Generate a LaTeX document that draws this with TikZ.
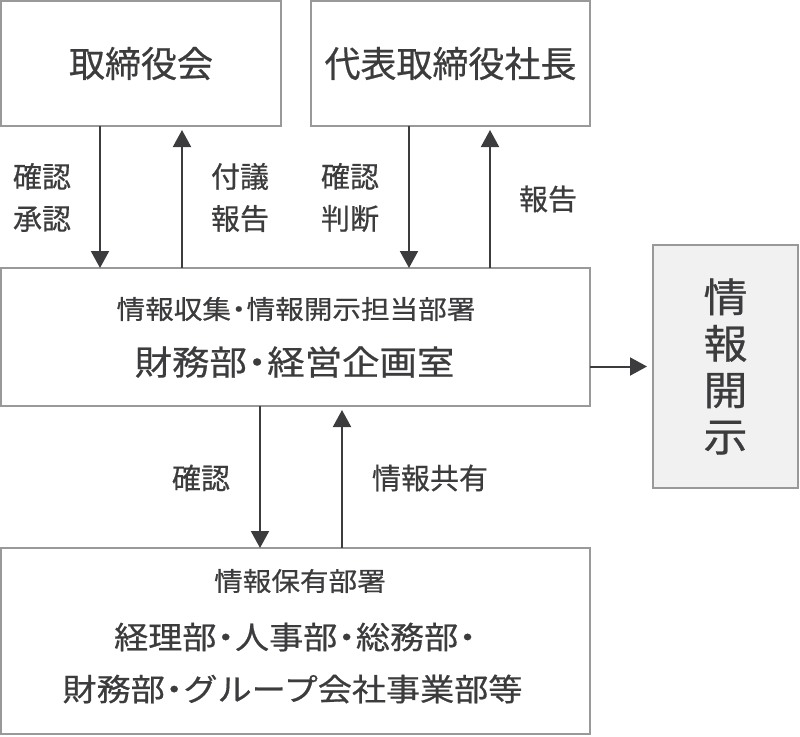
\documentclass[tikz,border=0pt]{standalone}
\usepackage{fontspec}
\newfontfamily\jp[FakeBold=0.6]{Noto Sans CJK JP}
\newfontfamily\jpw[FakeStretch=1.1,FakeBold=0.6]{Noto Sans CJK JP}
\usetikzlibrary{arrows.meta}
\definecolor{ink}{RGB}{60,60,62}
\definecolor{edge}{RGB}{153,153,153}
\definecolor{pale}{RGB}{241,241,241}
\newcommand{\md}{\makebox[0.6em]{・}}
\begin{document}
\begin{tikzpicture}[x=1pt,y=-1pt,
  box/.style={draw=edge, line width=2pt, inner sep=0pt, outer sep=0pt, rectangle, text=ink},
  arr/.style={draw=ink, line width=2pt, -{Triangle[width=18pt,length=17pt]}},
  lbl/.style={text=ink, align=center, inner sep=0pt, font=\jp\fontsize{29}{42}\selectfont},
  txt/.style={text=ink, inner sep=0pt}]
\useasboundingbox (0,0) rectangle (800,736);

% boxes
\node[box, minimum width=280pt, minimum height=125pt, font=\jp\fontsize{36}{40}\selectfont] (b1) at (141,63.5) {取締役会};
\node[box, minimum width=279pt, minimum height=125pt, font=\jp\fontsize{36}{40}\selectfont] (b2) at (450.5,63.5) {代表取締役社長};
\node[box, minimum width=589pt, minimum height=138pt] (b3) at (295.5,337) {};
\node[box, fill=pale, minimum width=145pt, minimum height=243pt, align=center, font=\jpw\fontsize{40}{46.5}\selectfont] (b4) at (725.5,366.5) {情\\報\\開\\示};
\node[box, minimum width=589pt, minimum height=186pt] (b5) at (295.5,641) {};

% texts inside boxes
\node[txt, font=\jpw\fontsize{26}{30}\selectfont] (t3a) at (296,309) {情報収集\md 情報開示担当部署};
\node[txt, font=\jpw\fontsize{34}{40}\selectfont] (t3b) at (294.5,362) {財務部\md 経営企画室};
\node[txt, font=\jpw\fontsize{26}{30}\selectfont] (t5a) at (300,581) {情報保有部署};
\node[txt, font=\jpw\fontsize{31}{36}\selectfont] (t5b) at (295.5,637) {経理部\md 人事部\md 総務部\md};
\node[txt, font=\jpw\fontsize{31}{36}\selectfont] (t5c) at (292.5,689) {財務部\md グループ会社事業部等};

% arrow x positions
\coordinate (xa) at (100,0);
\coordinate (xb) at (182,0);
\coordinate (xc) at (409,0);
\coordinate (xd) at (490,0);
\coordinate (xe) at (260,0);
\coordinate (xf) at (342,0);

\draw[arr] (b1.south -| xa) -- (b3.north -| xa);
\draw[arr, shorten >=4pt] (b3.north -| xb) -- (b1.south -| xb);
\draw[arr] (b2.south -| xc) -- (b3.north -| xc);
\draw[arr, shorten >=4pt] (b3.north -| xd) -- (b2.south -| xd);
\draw[arr] (b3.south -| xe) -- (b5.north -| xe);
\draw[arr, shorten >=4pt] (b5.north -| xf) -- (b3.south -| xf);
\draw[arr, shorten >=6pt] (b3.east |- b4.west) -- (b4.west);

% labels
\node[lbl] (l1) at (42,197.5) {確認\\承認};
\node[lbl] (l2) at (240,197.5) {付議\\報告};
\node[lbl] (l3) at (350,197.5) {確認\\判断};
\node[lbl] (l4) at (548,199) {報告};
\node[lbl] (l5) at (201,478) {確認};
\node[lbl] (l6) at (430,478) {情報共有};
\end{tikzpicture}
\end{document}
